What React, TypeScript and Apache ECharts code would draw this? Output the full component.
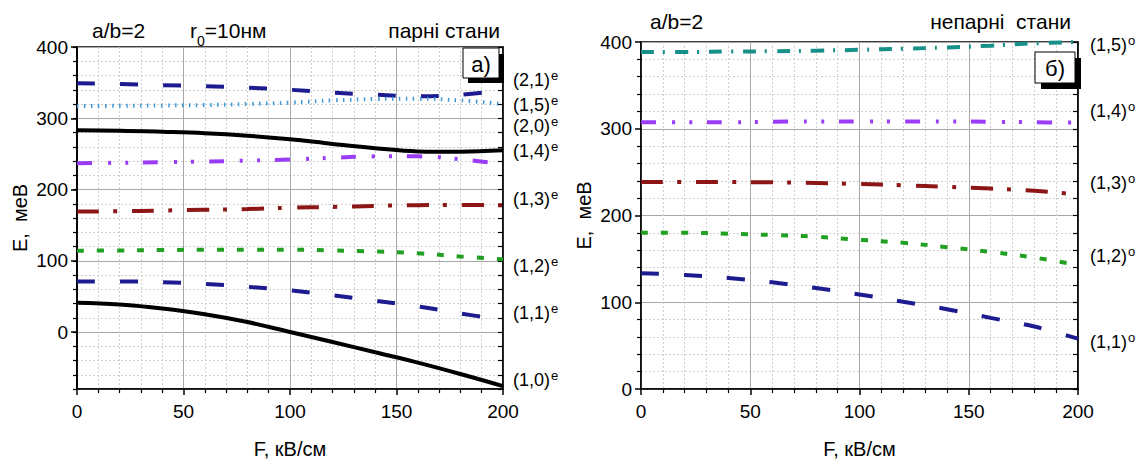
import React, { useEffect, useRef } from "react";
import * as echarts from "echarts";

// ---- data ----
const F = [0, 20, 40, 60, 80, 100, 120, 140, 160, 180, 200];

// even states (panel a)
const E21e = [349, 348, 346.5, 345, 343, 340, 336, 333, 331, 333, 339];
const E15e = [317, 317.5, 318, 318.5, 320, 322, 325, 327, 327.5, 325, 320];
const E20e = [283, 282.5, 281, 279, 275.5, 270.5, 264, 258, 253.5, 253, 255];
const E14e = [237, 237.5, 238.3, 239.3, 240.5, 242, 244.5, 246.5, 246.5, 242.5, 235.5];
const E13e = [169, 169.5, 170.5, 171.5, 172.5, 174.5, 175.5, 177, 178, 178.2, 178];
const E12e = [114, 114.5, 115, 115.5, 115.5, 115.5, 114.5, 113, 110.5, 106, 102];
const E11e = [71, 71, 70, 67.5, 63.5, 58.5, 51.5, 44, 36, 26, 17];
const E10e = [41, 38.5, 33, 25, 14, 0, -14, -28.5, -43, -59, -76];

// odd states (panel б)
const E15o = [388.5, 388.5, 389, 389.3, 390, 391, 392.3, 393.7, 395.8, 398.5, 400];
const E14o = [307.5, 307.5, 307.5, 308, 308.5, 308.5, 308.5, 308.5, 308, 307.5, 307];
const E13o = [238.5, 238.5, 238.5, 238.3, 237.5, 236.3, 234.8, 233, 231, 228.5, 224];
const E12o = [180, 180, 179, 177.5, 175.5, 172, 168.5, 163.5, 158, 151.5, 143];
const E11o = [133.5, 131.5, 128, 123, 116.5, 109, 100.5, 92, 82, 72, 58];

// state labels and the E value where each label sits
const evenLabels = ["(2,1)", "(1,5)", "(2,0)", "(1,4)", "(1,3)", "(1,2)", "(1,1)", "(1,0)"];
const evenLabelE = [353, 319, 289, 254, 186, 92, 26, -67];
const oddLabels = ["(1,5)", "(1,4)", "(1,3)", "(1,2)", "(1,1)"];
const oddLabelE = [397, 320, 237, 153, 54];

const FONT = "'Liberation Sans', Arial, Helvetica, sans-serif";

const C = {
  navy: "#1c1c90",
  light: "#3f98d8",
  black: "#000000",
  purple: "#9a3cf6",
  red: "#8c1616",
  green: "#21a021",
  teal: "#17908a",
};

const DASH_NAVY = [18, 25];
const DASH_DOTDOT = [15, 16, 3, 14, 3, 15];
const DASH_DOT = [22, 14, 4, 15];
const DASH_SHORT = [7, 13];
const DASH_TICK = [1.5, 5.5];
const DASH_TEAL = [13, 9, 2, 10];

function pairs(ys: number[]) {
  return F.map((f, i) => [f, ys[i]]);
}

function line(name: string, ys: number[], xi: number, yi: number, color: string, dash: any, width = 4) {
  return {
    type: "line",
    name,
    xAxisIndex: xi,
    yAxisIndex: yi,
    data: pairs(ys),
    smooth: 0.4,
    showSymbol: false,
    symbol: "none",
    lineStyle: { color, width, type: dash, cap: "butt" },
    z: 5,
  };
}

export default function App() {
  const ref = useRef<HTMLDivElement>(null);
  useEffect(() => {
    if (!ref.current) return;
    const chart = echarts.init(ref.current, null, { renderer: "svg" });

    const grid0 = { left: 77, top: 47, width: 426, height: 351 };
    const grid1 = { left: 641, top: 42, width: 437, height: 352 };

    const xAxisBase = (gi: number) => ({
      type: "value",
      gridIndex: gi,
      position: "bottom",
      min: 0,
      max: 200,
      interval: 50,
      name: "F, кВ/см",
      nameLocation: "middle",
      nameGap: 50,
      nameTextStyle: { fontSize: 20, color: "#000", fontFamily: FONT },
      axisLine: { show: true, onZero: false, lineStyle: { color: "#000", width: 1.5 } },
      axisTick: { show: true, inside: false, length: 6, lineStyle: { color: "#000", width: 1.5 } },
      minorTick: { show: true, splitNumber: 5, length: 4, lineStyle: { color: "#000", width: 1.2 } },
      axisLabel: { color: "#000", fontSize: 19, fontFamily: FONT, margin: 13 },
      splitLine: { show: true, lineStyle: { color: "#a8a8a8", width: 1 } },
      minorSplitLine: { show: true, lineStyle: { color: "#cfcfcf", width: 1, type: [2, 2] } },
    });

    const option: any = {
      animation: false,
      backgroundColor: "#ffffff",
      textStyle: { fontFamily: FONT },
      grid: [
        { ...grid0, show: true, borderColor: "#000", borderWidth: 1.5, backgroundColor: "transparent" },
        { ...grid1, show: true, borderColor: "#000", borderWidth: 1.5, backgroundColor: "transparent" },
      ],
      xAxis: [xAxisBase(0), xAxisBase(1)],
      yAxis: [
        // 0: panel a minor (step 20)
        {
          type: "value",
          gridIndex: 0,
          position: "left",
          offset: 0,
          min: -80,
          max: 400,
          interval: 20,
          axisLine: { show: true, onZero: false, lineStyle: { color: "#000", width: 1.5 } },
          axisTick: { show: true, length: 4, lineStyle: { color: "#000", width: 1.2 } },
          axisLabel: { show: false },
          splitLine: { show: true, lineStyle: { color: "#cfcfcf", width: 1, type: [2, 2] } },
        },
        // 1: panel a major (step 100)
        {
          type: "value",
          gridIndex: 0,
          position: "left",
          offset: 0,
          min: -80,
          max: 400,
          splitNumber: 5,
          name: "E,  меВ",
          nameLocation: "middle",
          nameGap: 47,
          nameTextStyle: { fontSize: 20, color: "#000", fontFamily: FONT },
          axisLine: { show: true, onZero: false, lineStyle: { color: "#000", width: 1.5 } },
          axisTick: { show: true, length: 6, lineStyle: { color: "#000", width: 1.5 } },
          axisLabel: { color: "#000", fontSize: 19, fontFamily: FONT, margin: 9, showMinLabel: false },
          splitLine: { show: true, lineStyle: { color: "#a8a8a8", width: 1 } },
        },
        // 2: panel a right ticks
        {
          type: "value",
          gridIndex: 0,
          position: "right",
          offset: 0,
          min: -80,
          max: 400,
          interval: 20,
          axisLine: { show: true, onZero: false, lineStyle: { color: "#000", width: 1.5 } },
          axisTick: { show: true, inside: true, length: 5, lineStyle: { color: "#000", width: 1.2 } },
          axisLabel: { show: false },
          splitLine: { show: false },
        },
        // 3: panel б main
        {
          type: "value",
          gridIndex: 1,
          position: "left",
          offset: 0,
          min: 0,
          max: 400,
          interval: 100,
          name: "E,  меВ",
          nameLocation: "middle",
          nameGap: 47,
          nameTextStyle: { fontSize: 20, color: "#000", fontFamily: FONT },
          axisLine: { show: true, onZero: false, lineStyle: { color: "#000", width: 1.5 } },
          axisTick: { show: true, length: 6, lineStyle: { color: "#000", width: 1.5 } },
          minorTick: { show: true, splitNumber: 5, length: 4, lineStyle: { color: "#000", width: 1.2 } },
          axisLabel: { color: "#000", fontSize: 19, fontFamily: FONT, margin: 9 },
          splitLine: { show: true, lineStyle: { color: "#a8a8a8", width: 1 } },
          minorSplitLine: { show: true, lineStyle: { color: "#cfcfcf", width: 1, type: [2, 2] } },
        },
        // 4: panel б right ticks
        {
          type: "value",
          gridIndex: 1,
          position: "right",
          offset: 0,
          min: 0,
          max: 400,
          interval: 20,
          axisLine: { show: true, onZero: false, lineStyle: { color: "#000", width: 1.5 } },
          axisTick: { show: true, inside: true, length: 5, lineStyle: { color: "#000", width: 1.2 } },
          axisLabel: { show: false },
          splitLine: { show: false },
        },
      ],
      series: [
        line("(2,1)e", E21e, 0, 0, C.navy, DASH_NAVY),
        line("(1,5)e", E15e, 0, 0, C.light, DASH_TICK, 4),
        line("(2,0)e", E20e, 0, 0, C.black, "solid", 4),
        line("(1,4)e", E14e, 0, 0, C.purple, DASH_DOTDOT),
        line("(1,3)e", E13e, 0, 0, C.red, DASH_DOT),
        line("(1,2)e", E12e, 0, 0, C.green, DASH_SHORT),
        line("(1,1)e", E11e, 0, 0, C.navy, DASH_NAVY),
        line("(1,0)e", E10e, 0, 0, C.black, "solid", 4),
        line("(1,5)o", E15o, 1, 3, C.teal, DASH_TEAL),
        line("(1,4)o", E14o, 1, 3, C.purple, DASH_DOTDOT),
        line("(1,3)o", E13o, 1, 3, C.red, DASH_DOT),
        line("(1,2)o", E12o, 1, 3, C.green, DASH_SHORT),
        line("(1,1)o", E11o, 1, 3, C.navy, DASH_NAVY),
      ],
    };
    chart.setOption(option);

    const rich = {
      m: { fontSize: 18, fontFamily: FONT, fill: "#000", color: "#000", lineHeight: 22 },
      s: { fontSize: 13, fontFamily: FONT, fill: "#000", color: "#000", verticalAlign: "top", lineHeight: 22, padding: [0, 0, 0, 1] },
    };

    const graphics: any[] = [];
    evenLabels.forEach((lab, i) => {
      const p = chart.convertToPixel({ xAxisIndex: 0, yAxisIndex: 0 } as any, [200, evenLabelE[i]]) as number[];
      graphics.push({
        type: "text",
        x: p[0] + 10,
        y: p[1],
        style: { text: `{m|${lab}}{s|e}`, rich, verticalAlign: "middle", align: "left" },
      });
    });
    oddLabels.forEach((lab, i) => {
      const p = chart.convertToPixel({ xAxisIndex: 1, yAxisIndex: 3 } as any, [200, oddLabelE[i]]) as number[];
      graphics.push({
        type: "text",
        x: p[0] + 12,
        y: p[1],
        style: { text: `{m|${lab}}{s|o}`, rich, verticalAlign: "middle", align: "left" },
      });
    });

    const titleStyle = { fontSize: 21, fontFamily: FONT, fill: "#000" };
    graphics.push(
      { type: "text", x: 92, y: 30, style: { ...titleStyle, text: "a/b=2", verticalAlign: "middle" } },
      {
        type: "text",
        x: 190,
        y: 30,
        style: {
          text: "{a|r}{b|0}{a|=10нм}",
          verticalAlign: "middle",
          rich: {
            a: { fontSize: 21, fontFamily: FONT, fill: "#000", lineHeight: 24 },
            b: { fontSize: 14, fontFamily: FONT, fill: "#000", verticalAlign: "bottom", lineHeight: 24, padding: [0, 0, -6, 0] },
          },
        },
      },
      { type: "text", x: 500, y: 30, style: { ...titleStyle, text: "парні стани", align: "right", verticalAlign: "middle" } },
      { type: "text", x: 650, y: 21, style: { ...titleStyle, text: "a/b=2", verticalAlign: "middle" } },
      { type: "text", x: 1071, y: 21, style: { ...titleStyle, text: "непарні  стани", align: "right", verticalAlign: "middle" } },
      // panel a tag box
      { type: "rect", shape: { x: 468, y: 54, width: 36, height: 29 }, style: { fill: "#000" }, z: 20 },
      { type: "rect", shape: { x: 463, y: 48, width: 36, height: 30 }, style: { fill: "#fff", stroke: "#000", lineWidth: 1 }, z: 21 },
      { type: "text", x: 481, y: 64, z: 22, style: { ...titleStyle, fontSize: 22, text: "a)", align: "center", verticalAlign: "middle" } },
      // panel б tag box
      { type: "rect", shape: { x: 1041, y: 58, width: 40, height: 31 }, style: { fill: "#000" }, z: 20 },
      { type: "rect", shape: { x: 1035, y: 52, width: 40, height: 31 }, style: { fill: "#fff", stroke: "#000", lineWidth: 1 }, z: 21 },
      { type: "text", x: 1055, y: 68, z: 22, style: { ...titleStyle, fontSize: 22, text: "б)", align: "center", verticalAlign: "middle" } }
    );

    chart.setOption({ graphic: graphics });

    return () => chart.dispose();
  }, []);

  return (
    <div
      ref={ref}
      style={{ position: "fixed", left: 0, top: 0, width: 1141, height: 464, background: "#fff" }}
    />
  );
}
